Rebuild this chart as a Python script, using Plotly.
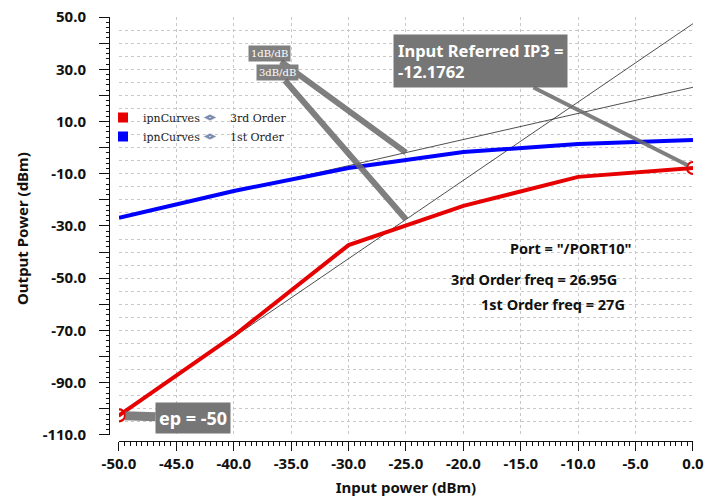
import numpy as np
import plotly.graph_objects as go

# Swept input power and the measured output tones (dBm)
input_power = [-50, -40, -30, -20, -10, 0]
third_order = [-102.5, -72.0, -37.3, -22.3, -11.2, -7.8]
first_order = [-26.9, -16.6, -7.8, -1.7, 1.4, 2.9]

# Extrapolated 1 dB/dB and 3 dB/dB lines
fit_x = [-50, 0]
first_order_fit = [-26.9, 23.1]
third_order_fit = [-102.45, 47.45]

ip3_input = -12.1762
slope_label_x = -25

x_ticks = [-50, -45, -40, -35, -30, -25, -20, -15, -10, -5, 0]
x_tick_labels = [f"{v:.1f}" for v in x_ticks]
y_ticks = list(range(-110, 51, 10))
y_tick_labels = [f"{v:.1f}" if (v - 50) % 20 == 0 else "" for v in y_ticks]

RED = "#e60000"
BLUE = "#0000ff"
EYE = "#7d8db0"
BOLD = "Noto Sans"
SERIF = "DejaVu Serif"
X_RANGE = [-50, 0]
Y_RANGE = [-110, 50]

fig = go.Figure()

# thin extrapolation lines
fig.add_trace(go.Scatter(x=fit_x, y=third_order_fit, mode="lines",
                         line=dict(color="#222222", width=0.8),
                         showlegend=False, hoverinfo="skip"))
fig.add_trace(go.Scatter(x=fit_x, y=first_order_fit, mode="lines",
                         line=dict(color="#222222", width=0.8),
                         showlegend=False, hoverinfo="skip"))

# measured curves
fig.add_trace(go.Scatter(x=input_power, y=third_order, mode="lines",
                         line=dict(color=RED, width=4), legendgroup="im3",
                         showlegend=False))
fig.add_trace(go.Scatter(x=input_power, y=first_order, mode="lines",
                         line=dict(color=BLUE, width=4), legendgroup="fund",
                         showlegend=False))

# end-point markers on the 3rd order curve
fig.add_trace(go.Scatter(x=[input_power[0], input_power[-1]],
                         y=[third_order[0], third_order[-1]], mode="markers",
                         marker=dict(symbol="circle-open-dot", size=12, color=RED,
                                     line=dict(color=RED, width=2.2)),
                         showlegend=False))

# legend entries
fig.add_trace(go.Scatter(x=[None], y=[None], mode="markers", name="ipnCurves",
                         marker=dict(symbol="square", size=10, color=RED),
                         legendgroup="im3", legend="legend"))
fig.add_trace(go.Scatter(x=[None], y=[None], mode="markers", name="ipnCurves",
                         marker=dict(symbol="square", size=10, color=BLUE),
                         legendgroup="fund", legend="legend"))
fig.add_trace(go.Scatter(x=[None], y=[None], mode="markers", name="3rd Order",
                         marker=dict(symbol="diamond-wide-dot", size=10, color=EYE,
                                     line=dict(color="#ffffff", width=0.8)),
                         legend="legend2"))
fig.add_trace(go.Scatter(x=[None], y=[None], mode="markers", name="1st Order",
                         marker=dict(symbol="diamond-wide-dot", size=10, color=EYE,
                                     line=dict(color="#ffffff", width=0.8)),
                         legend="legend2"))

# carrier trace for the offset tick axes
fig.add_trace(go.Scatter(x=[None], y=[None], xaxis="x2", yaxis="y2",
                         showlegend=False, hoverinfo="skip"))

grid = dict(showgrid=True, gridcolor="#c8c8c8", griddash="dot", gridwidth=1,
            showticklabels=False, ticks="", showline=False, zeroline=False,
            dtick=5, tick0=0)

legend_style = dict(xref="container", yref="container", xanchor="left",
                    yanchor="top", bgcolor="rgba(0,0,0,0)", tracegroupgap=0,
                    font=dict(family=SERIF, size=11, color="#222222"))

title_font = dict(family=BOLD, size=15, color="#111111", weight="bold")

fig.update_layout(
    width=705, height=499,
    margin=dict(l=109, r=12, t=17, b=58, autoexpand=False),
    paper_bgcolor="white", plot_bgcolor="white",
    xaxis=dict(range=X_RANGE, domain=[0.0171, 1], **grid),
    yaxis=dict(range=Y_RANGE, domain=[0.0142, 1], **grid),
    xaxis2=dict(range=X_RANGE, overlaying="x", anchor="free", position=0,
                showgrid=False, zeroline=False, showline=True,
                linecolor="#111111", linewidth=1,
                tickmode="array", tickvals=x_ticks, ticktext=x_tick_labels,
                ticks="outside", ticklen=9, tickcolor="#111111",
                minor=dict(dtick=0.5, ticks="outside", ticklen=4,
                           tickcolor="#111111"),
                tickfont=title_font,
                title=dict(text="Input power (dBm)", standoff=10,
                           font=title_font)),
    yaxis2=dict(range=Y_RANGE, overlaying="y", anchor="free", position=0,
                showgrid=False, zeroline=False, showline=True,
                linecolor="#111111", linewidth=1,
                tickmode="array", tickvals=y_ticks, ticktext=y_tick_labels,
                ticks="outside", ticklen=10, tickcolor="#111111",
                ticklabelstandoff=10,
                minor=dict(dtick=2, ticks="outside", ticklen=3,
                           tickcolor="#111111"),
                tickfont=title_font),
    legend=dict(x=103 / 705, y=1 - 103 / 499, **legend_style),
    legend2=dict(x=190 / 705, y=1 - 103 / 499, **legend_style),
)

# y axis title, placed beside the offset tick labels
fig.add_annotation(xref="paper", yref="paper", x=(22 - 109) / 584,
                   y=(441 - 228) / 424, xanchor="center", yanchor="middle",
                   text="Output Power (dBm)", textangle=-90, showarrow=False,
                   font=title_font)

# slope labels pointing at the extrapolated lines
fund_at = float(np.interp(slope_label_x, fit_x, first_order_fit))
im3_at = float(np.interp(slope_label_x, fit_x, third_order_fit))
POINTER = "rgba(105,105,105,0.85)"
fig.add_annotation(x=slope_label_x, y=fund_at, text="1dB/dB", ax=-136, ay=-99,
                   showarrow=True, arrowhead=0, arrowwidth=6, arrowcolor=POINTER,
                   bgcolor="#808080", borderpad=2,
                   font=dict(family=SERIF, size=10, color="white"))
fig.add_annotation(x=slope_label_x, y=im3_at, text="3dB/dB", ax=-128, ay=-147,
                   showarrow=True, arrowhead=0, arrowwidth=6, arrowcolor=POINTER,
                   bgcolor="#808080", borderpad=2,
                   font=dict(family=SERIF, size=10, color="white"))

# IP3 and end-point labels
fig.add_annotation(x=input_power[-1], y=third_order[-1],
                   text=f"Input Referred IP3 =<br>{ip3_input}", align="left",
                   ax=-212, ay=-107, showarrow=True, arrowhead=0, arrowwidth=4,
                   arrowcolor=POINTER, standoff=6,
                   bgcolor="#767676", borderpad=4,
                   font=dict(family=BOLD, size=16.5, color="white", weight="bold"))
fig.add_annotation(x=input_power[0], y=third_order[0],
                   text=f"ep = {input_power[0]}", ax=74, ay=3,
                   showarrow=True, arrowhead=0, arrowwidth=9,
                   arrowcolor=POINTER, standoff=6,
                   bgcolor="#767676", borderpad=3,
                   font=dict(family=BOLD, size=18, color="white", weight="bold"))

# sweep information
info = [("Port = \"/PORT10\"", 508, 248),
        ("3rd Order freq = 26.95G", 449, 279),
        ("1st Order freq = 27G", 479, 304)]
for text, px, py in info:
    fig.add_annotation(xref="paper", yref="paper",
                       x=(px - 109) / 584, y=(441 - py) / 424,
                       xanchor="left", yanchor="middle", showarrow=False,
                       text=text,
                       font=dict(family=BOLD, size=14.5, color="#111111",
                                 weight="bold"))

fig.write_html("out.html")
